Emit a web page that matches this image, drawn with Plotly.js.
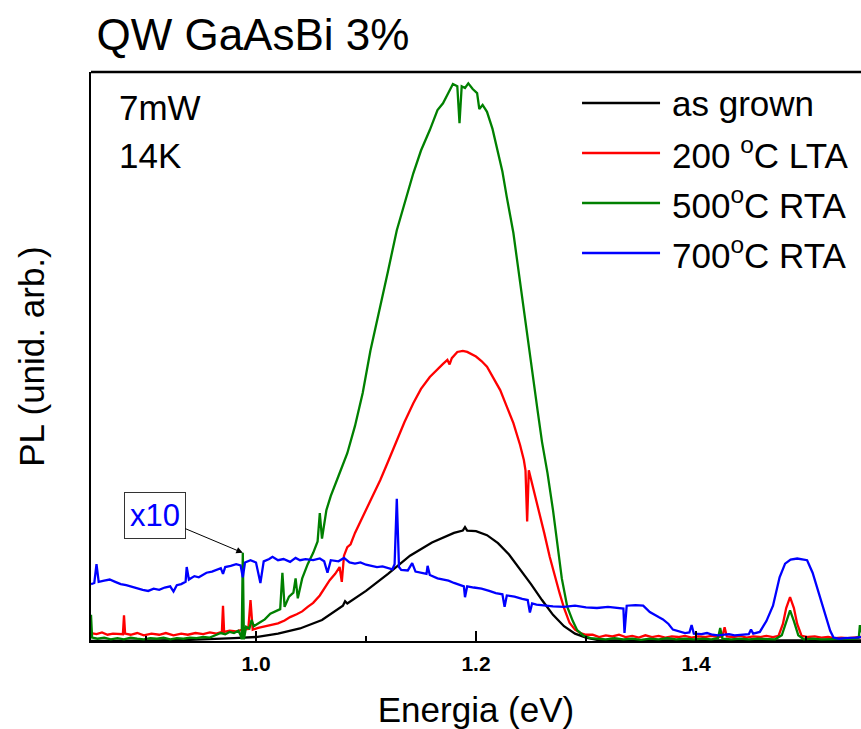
<!DOCTYPE html>
<html>
<head>
<meta charset="utf-8">
<script src="https://cdn.plot.ly/plotly-3.0.1.min.js"></script>
<style>html,body{margin:0;padding:0;background:#fff;}#chart{width:861px;height:729px;}</style>
</head>
<body>
<div id="chart"></div>
<script>
// ---- data (energy in eV, PL intensity in arbitrary units) ----
const seriesNames = ["as grown", "200 <sup>o</sup>C LTA", "500<sup>o</sup>C RTA", "700<sup>o</sup>C RTA"];
const seriesColors = ["#000000", "#ff0000", "#008000", "#0000ff"];

const asGrownE = [0.85,0.88,0.91,0.94,0.96,0.98,1.00,1.02,1.04,1.06,1.079,1.081,1.083,1.10,1.12,1.14,1.16,1.18,1.188,1.19,1.192,1.20,1.21,1.22,1.23,1.24,1.25,1.26,1.27,1.28,1.29,1.30,1.31,1.32,1.35,1.40,1.45,1.50,1.55];
const asGrownI = [0,0,0.001,0.002,0.003,0.005,0.007,0.013,0.022,0.037,0.062,0.07,0.066,0.088,0.118,0.150,0.173,0.190,0.194,0.2,0.194,0.193,0.186,0.172,0.152,0.127,0.100,0.072,0.046,0.026,0.013,0.006,0.002,0.001,0.001,0.002,0.001,0.001,0.001];

const lta200E = [0.85,0.855,0.86,0.865,0.87,0.875,0.879,0.88,0.881,0.886,0.892,0.898,0.905,0.912,0.918,0.925,0.932,0.938,0.945,0.952,0.958,0.964,0.969,0.970,0.971,0.976,0.982,0.988,0.993,0.995,0.997,1.002,1.008,1.014,1.020,1.026,1.031,1.037,1.042,1.047,1.052,1.058,1.063,1.067,1.072,1.076,1.078,1.080,1.083,1.086,1.090,1.097,1.105,1.113,1.120,1.128,1.135,1.143,1.150,1.158,1.165,1.170,1.174,1.176,1.178,1.183,1.188,1.192,1.200,1.205,1.210,1.216,1.222,1.228,1.234,1.240,1.2435,1.245,1.2465,1.248,1.252,1.258,1.262,1.267,1.272,1.276,1.280,1.285,1.290,1.295,1.300,1.306,1.312,1.318,1.324,1.330,1.336,1.342,1.348,1.354,1.360,1.366,1.372,1.378,1.384,1.390,1.396,1.402,1.408,1.414,1.420,1.424,1.426,1.428,1.434,1.440,1.446,1.452,1.458,1.464,1.470,1.475,1.479,1.482,1.4855,1.489,1.492,1.496,1.502,1.508,1.514,1.520,1.526,1.532,1.538,1.544,1.550];
const lta200I = [0.014,0.012,0.015,0.011,0.013,0.012,0.012,0.045,0.013,0.011,0.014,0.010,0.013,0.011,0.014,0.010,0.013,0.011,0.014,0.012,0.015,0.013,0.016,0.062,0.016,0.018,0.017,0.020,0.021,0.072,0.020,0.023,0.026,0.028,0.031,0.036,0.042,0.047,0.052,0.060,0.067,0.080,0.095,0.107,0.118,0.130,0.104,0.150,0.165,0.170,0.190,0.218,0.250,0.283,0.315,0.353,0.385,0.418,0.443,0.464,0.478,0.487,0.494,0.486,0.497,0.508,0.510,0.508,0.500,0.492,0.482,0.462,0.441,0.412,0.383,0.345,0.318,0.300,0.210,0.300,0.270,0.225,0.190,0.148,0.110,0.084,0.058,0.032,0.020,0.014,0.011,0.011,0.007,0.010,0.008,0.011,0.007,0.009,0.006,0.010,0.007,0.009,0.006,0.008,0.007,0.009,0.006,0.008,0.007,0.009,0.007,0.008,0.024,0.008,0.007,0.009,0.006,0.008,0.007,0.009,0.007,0.009,0.030,0.058,0.077,0.058,0.030,0.009,0.007,0.008,0.006,0.007,0.005,0.006,0.005,0.006,0.007];

const rta500E = [0.85,0.851,0.856,0.862,0.868,0.874,0.880,0.886,0.892,0.898,0.904,0.910,0.916,0.922,0.928,0.934,0.940,0.946,0.952,0.958,0.963,0.968,0.972,0.976,0.980,0.984,0.986,0.987,0.988,0.989,0.991,0.994,0.996,0.998,1.003,1.008,1.013,1.018,1.022,1.024,1.026,1.030,1.034,1.036,1.038,1.042,1.047,1.052,1.056,1.058,1.060,1.064,1.068,1.075,1.083,1.090,1.097,1.104,1.113,1.120,1.128,1.135,1.143,1.150,1.158,1.165,1.170,1.174,1.179,1.183,1.185,1.187,1.190,1.193,1.197,1.201,1.203,1.206,1.210,1.215,1.219,1.224,1.228,1.234,1.238,1.243,1.247,1.252,1.256,1.260,1.265,1.270,1.274,1.278,1.283,1.288,1.292,1.298,1.304,1.310,1.318,1.326,1.334,1.342,1.350,1.358,1.366,1.374,1.382,1.390,1.398,1.406,1.414,1.420,1.422,1.424,1.432,1.440,1.448,1.456,1.464,1.472,1.478,1.482,1.4855,1.489,1.493,1.498,1.506,1.514,1.522,1.530,1.538,1.545,1.548,1.549,1.550];
const rta500I = [0.046,0.006,0.004,0.006,0.003,0.005,0.003,0.006,0.004,0.003,0.005,0.004,0.006,0.003,0.005,0.004,0.006,0.005,0.007,0.006,0.010,0.014,0.012,0.016,0.014,0.018,0.010,0.003,0.155,0.003,0.025,0.022,0.037,0.026,0.032,0.038,0.048,0.052,0.056,0.120,0.060,0.078,0.085,0.110,0.075,0.110,0.135,0.155,0.175,0.225,0.180,0.230,0.255,0.290,0.330,0.378,0.436,0.510,0.587,0.650,0.722,0.770,0.822,0.862,0.898,0.933,0.945,0.960,0.979,0.975,0.910,0.975,0.972,0.980,0.970,0.963,0.935,0.942,0.930,0.900,0.868,0.825,0.780,0.717,0.660,0.587,0.529,0.460,0.405,0.350,0.295,0.230,0.165,0.110,0.060,0.035,0.019,0.009,0.005,0.004,0.003,0.005,0.003,0.004,0.002,0.004,0.003,0.005,0.003,0.004,0.003,0.004,0.003,0.005,0.023,0.004,0.003,0.004,0.003,0.004,0.003,0.003,0.010,0.035,0.054,0.035,0.010,0.003,0.004,0.003,0.003,0.004,0.003,0.004,0.006,0.028,0.015];

const rta700E = [0.85,0.853,0.855,0.857,0.862,0.867,0.872,0.877,0.882,0.887,0.892,0.897,0.902,0.907,0.912,0.917,0.922,0.925,0.928,0.932,0.936,0.937,0.939,0.944,0.948,0.952,0.955,0.960,0.965,0.968,0.970,0.972,0.977,0.982,0.986,0.988,0.990,0.995,1.000,1.004,1.007,1.012,1.015,1.020,1.025,1.031,1.036,1.040,1.045,1.052,1.058,1.062,1.065,1.068,1.075,1.080,1.085,1.090,1.095,1.100,1.105,1.110,1.115,1.120,1.124,1.126,1.128,1.130,1.132,1.138,1.142,1.145,1.150,1.155,1.156,1.158,1.165,1.170,1.175,1.180,1.185,1.189,1.190,1.192,1.198,1.205,1.212,1.218,1.224,1.226,1.228,1.235,1.242,1.247,1.249,1.251,1.255,1.262,1.270,1.280,1.290,1.300,1.310,1.320,1.330,1.334,1.335,1.337,1.345,1.352,1.358,1.362,1.366,1.370,1.375,1.379,1.385,1.390,1.394,1.396,1.398,1.405,1.410,1.415,1.420,1.425,1.430,1.435,1.440,1.448,1.450,1.452,1.458,1.464,1.470,1.476,1.481,1.486,1.492,1.497,1.501,1.506,1.510,1.513,1.516,1.519,1.522,1.525,1.530,1.535,1.540,1.545,1.550];
const rta700I = [0.100,0.102,0.135,0.104,0.106,0.108,0.104,0.100,0.098,0.095,0.092,0.090,0.088,0.092,0.090,0.094,0.096,0.087,0.098,0.100,0.104,0.130,0.108,0.114,0.112,0.116,0.120,0.122,0.126,0.128,0.118,0.130,0.132,0.135,0.133,0.112,0.138,0.142,0.138,0.102,0.140,0.144,0.148,0.142,0.144,0.139,0.146,0.142,0.144,0.142,0.145,0.140,0.120,0.142,0.140,0.146,0.138,0.136,0.138,0.134,0.132,0.130,0.131,0.128,0.126,0.135,0.250,0.130,0.125,0.124,0.137,0.122,0.120,0.118,0.132,0.116,0.110,0.108,0.106,0.102,0.098,0.096,0.077,0.096,0.094,0.092,0.088,0.084,0.082,0.060,0.080,0.078,0.074,0.072,0.050,0.066,0.064,0.062,0.061,0.060,0.062,0.059,0.058,0.060,0.057,0.057,0.014,0.062,0.063,0.062,0.051,0.046,0.042,0.038,0.030,0.020,0.016,0.014,0.015,0.028,0.013,0.012,0.014,0.011,0.010,0.011,0.012,0.010,0.011,0.012,0.020,0.013,0.016,0.035,0.062,0.112,0.136,0.143,0.145,0.144,0.142,0.120,0.095,0.077,0.055,0.037,0.018,0.006,0.004,0.005,0.005,0.006,0.007];

const xTickStep = 0.2;
const xRange = [0.85, 1.55];

// ---- traces ----
const xs = [asGrownE, lta200E, rta500E, rta700E];
const ys = [asGrownI, lta200I, rta500I, rta700I];
const traces = xs.map((x, i) => ({
  x: x, y: ys[i], type: 'scatter', mode: 'lines', name: seriesNames[i],
  line: {color: seriesColors[i], width: 2.3}, showlegend: false, hoverinfo: 'x+y'
}));

const FONT = 'Arial, "Liberation Sans", sans-serif';

// manual legend (long line samples like the original)
const legendRowsY = [0.9455, 0.8576, 0.7698, 0.6819];
const shapes = [
  {type: 'line', xref: 'paper', yref: 'paper', x0: 0, x1: 1, y0: 1, y1: 1, line: {color: '#000', width: 2.5}}
];
const annotations = [
  {xref: 'paper', yref: 'paper', x: 0.034, y: 0.937, xanchor: 'left', yanchor: 'middle', text: '7mW', showarrow: false, font: {family: FONT, size: 35, color: '#000'}},
  {xref: 'paper', yref: 'paper', x: 0.034, y: 0.854, xanchor: 'left', yanchor: 'middle', text: '14K', showarrow: false, font: {family: FONT, size: 35, color: '#000'}},
  {xref: 'x', yref: 'y', x: 0.988, y: 0.155, text: 'x10', showarrow: true, ax: -88, ay: -37,
   arrowhead: 2, arrowsize: 1.3, arrowwidth: 1, arrowcolor: '#000', bordercolor: '#333', borderwidth: 1, borderpad: 5,
   font: {family: FONT, size: 31, color: '#0000ff'}}
];
legendRowsY.forEach((yy, i) => {
  shapes.push({type: 'line', xref: 'paper', yref: 'paper', x0: 0.6377, x1: 0.739, y0: yy, y1: yy, line: {color: seriesColors[i], width: 2.5}});
  annotations.push({xref: 'paper', yref: 'paper', x: 0.752, y: yy, xanchor: 'left', yanchor: 'middle', text: seriesNames[i], showarrow: false, font: {family: FONT, size: 35, color: '#000'}});
});

const layout = {
  width: 861, height: 729,
  margin: {l: 91, r: 0, t: 72, b: 88},
  paper_bgcolor: '#fff', plot_bgcolor: '#fff',
  font: {family: FONT, color: '#000'},
  title: {text: 'QW GaAsBi 3%', x: 0.112, xanchor: 'left', xref: 'container', y: 0.952, yanchor: 'middle', yref: 'container', font: {family: FONT, size: 44, color: '#000'}},
  xaxis: {
    range: xRange, dtick: xTickStep, tick0: 1.0, tickformat: '.1f',
    showline: true, linecolor: '#000', linewidth: 2, mirror: false,
    ticks: 'inside', ticklen: 10, tickwidth: 2, tickcolor: '#000',
    minor: {dtick: 0.1, ticks: 'inside', ticklen: 5, tickwidth: 2, tickcolor: '#000'},
    showgrid: false, zeroline: false, ticklabelstandoff: 3,
    tickfont: {family: FONT, size: 21, color: '#000', weight: 'bold'},
    title: {text: 'Energia (eV)', font: {family: FONT, size: 35, color: '#000'}, standoff: 25}
  },
  yaxis: {
    range: [0, 1], showticklabels: false, ticks: '',
    showline: true, linecolor: '#000', linewidth: 2, mirror: false,
    showgrid: false, zeroline: false,
    title: {text: 'PL (unid. arb.)', font: {family: FONT, size: 35, color: '#000'}, standoff: 34}
  },
  shapes: shapes,
  annotations: annotations,
  showlegend: false
};

Plotly.newPlot('chart', traces, layout, {displayModeBar: false, staticPlot: true});
</script>
</body>
</html>
